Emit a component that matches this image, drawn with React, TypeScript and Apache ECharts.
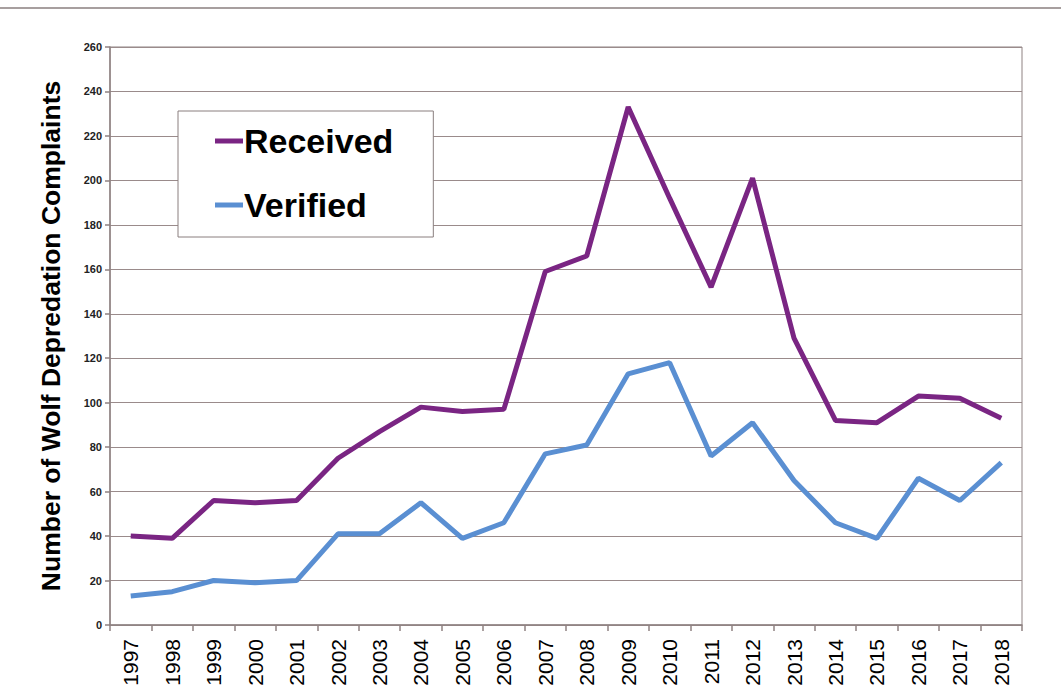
import React, { useEffect, useRef } from "react";
import * as echarts from "echarts";

const years = ["1997","1998","1999","2000","2001","2002","2003","2004","2005","2006","2007","2008","2009","2010","2011","2012","2013","2014","2015","2016","2017","2018"];
const received = [40, 39, 56, 55, 56, 75, 87, 98, 96, 97, 159, 166, 233, 192, 152, 201, 129, 92, 91, 103, 102, 93];
const verified = [13, 15, 20, 19, 20, 41, 41, 55, 39, 46, 77, 81, 113, 118, 76, 91, 65, 46, 39, 66, 56, 73];
const yAxisTitle = "Number of Wolf Depredation Complaints";

export default function App() {
  const ref = useRef<HTMLDivElement>(null);
  useEffect(() => {
    const chart = echarts.init(ref.current!, undefined, { renderer: "svg" });
    const axisColor = "#8f8282";
    chart.setOption({
      animation: false,
      backgroundColor: "#ffffff",
      textStyle: { fontFamily: "Liberation Sans, Arial, sans-serif" },
      grid: { left: 110, right: 39, top: 47, bottom: 75, show: true, borderColor: axisColor, borderWidth: 1 },
      graphic: [
        { type: "line", shape: { x1: 0, y1: 8, x2: 1061, y2: 8 }, style: { stroke: "#8a7f7f", lineWidth: 1.5 } },
      ],
      legend: {
        left: 178,
        top: 111,
        orient: "vertical",
        data: ["Received", "Verified"],
        icon: "rect",
        itemWidth: 28,
        itemHeight: 5,
        itemGap: 24,
        padding: [10, 40, 12, 37],
        borderColor: "#8a7f7f",
        borderWidth: 1,
        backgroundColor: "#ffffff",
        textStyle: { fontSize: 34, fontWeight: "bold", color: "#000", lineHeight: 40, padding: [0, 0, 0, -4] },
      },
      xAxis: {
        type: "category",
        data: years,
        boundaryGap: true,
        axisLine: { lineStyle: { color: axisColor, width: 1.5 } },
        axisTick: { show: true, length: 6, lineStyle: { color: axisColor, width: 1.5 } },
        axisLabel: { rotate: 90, fontSize: 21, color: "#000", margin: 14 },
      },
      yAxis: {
        type: "value",
        min: 0,
        max: 260,
        interval: 20,
        name: yAxisTitle,
        nameLocation: "middle",
        nameRotate: 90,
        nameGap: 46,
        nameTextStyle: { fontSize: 26.5, fontWeight: "bold", color: "#000" },
        axisLine: { show: true, lineStyle: { color: axisColor, width: 1.5 } },
        axisTick: { show: true, length: 5, lineStyle: { color: axisColor, width: 1.5 } },
        axisLabel: { fontSize: 11, fontWeight: "bold", color: "#222", margin: 8 },
        splitLine: { lineStyle: { color: "#9a8b8b", width: 1.2 } },
      },
      series: [
        {
          name: "Received",
          type: "line",
          data: received,
          symbol: "none",
          lineStyle: { color: "#7a2583", width: 5 },
          itemStyle: { color: "#7a2583" },
        },
        {
          name: "Verified",
          type: "line",
          data: verified,
          symbol: "none",
          lineStyle: { color: "#5a8fd2", width: 5 },
          itemStyle: { color: "#5a8fd2" },
        },
      ],
    });
    return () => chart.dispose();
  }, []);
  return (
    <div
      ref={ref}
      style={{ position: "fixed", left: 0, top: 0, width: 1061, height: 700 }}
    />
  );
}
